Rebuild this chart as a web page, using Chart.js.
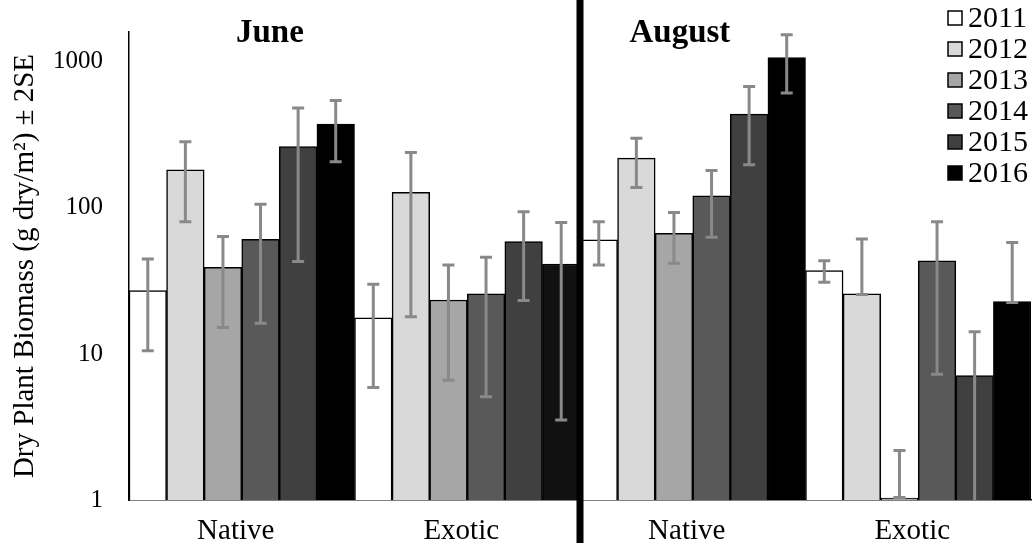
<!DOCTYPE html>
<html>
<head>
<meta charset="utf-8">
<script src="https://cdn.jsdelivr.net/npm/chart.js@4"></script>
<style>
  body { margin: 0; background: #fff; }
</style>
</head>
<body>
<canvas id="myChart" width="1036" height="548"></canvas>
<script>
// categories: June Native, June Exotic, August Native, August Exotic
const categories = ['Native', 'Exotic', 'Native', 'Exotic'];
const months = ['June', 'August'];
const years = ['2011', '2012', '2013', '2014', '2015', '2016'];
const yTicks = [1, 10, 100, 1000];

// mean biomass per year
const v2011 = [27.2, 17.7, 60.4, 37.2];
const v2012 = [182, 128, 219, 25.8];
const v2013 = [39.2, 23.4, 67, 1.03];
const v2014 = [61, 25.8, 121, 43.4];
const v2015 = [263, 58.8, 438, 7.1];
const v2016 = [374, 41.3, 1070, 22.8];

// +2SE / -2SE bounds
const hi2011 = [44.7, 30, 80.5, 43.5];
const lo2011 = [10.5, 5.9, 40.7, 31.0];
const hi2012 = [284, 239, 300, 61.3];
const lo2012 = [80.5, 18.0, 138, 25.5];
const hi2013 = [63.6, 40.7, 93, 2.18];
const lo2013 = [15.2, 6.6, 41.8, 1.04];
const hi2014 = [106, 46, 180, 80.5];
const lo2014 = [16.2, 5.1, 63, 7.26];
const hi2015 = [482, 94, 678, 14.2];
const lo2015 = [42.9, 23.2, 197, 0.5];
const hi2016 = [543, 79.3, 1530, 57.9];
const lo2016 = [207, 3.53, 611, 22.5];

const values = [v2011, v2012, v2013, v2014, v2015, v2016];
const highs = [hi2011, hi2012, hi2013, hi2014, hi2015, hi2016];
const lows = [lo2011, lo2012, lo2013, lo2014, lo2015, lo2016];
const fills = ['#ffffff', '#d9d9d9', '#a6a6a6', '#595959', '#404040', ['#000000', '#111111', '#000000', '#000000']];

const FONT = '"Liberation Serif", "Times New Roman", serif';

const datasets = years.map((y, i) => ({
    label: y,
    data: values[i],
    backgroundColor: fills[i],
    borderColor: '#000',
    borderWidth: 1.5,
    categoryPercentage: 1,
    barPercentage: 1
}));

// error bars, grey
const errorBars = {
    id: 'errorBars',
    afterDatasetsDraw(chart) {
        const ctx = chart.ctx;
        const yS = chart.scales.y;
        const area = chart.chartArea;
        ctx.save();
        ctx.beginPath();
        ctx.rect(area.left, area.top - 20, area.right - area.left, area.bottom - area.top + 20);
        ctx.clip();
        ctx.strokeStyle = '#898989';
        ctx.lineWidth = 3;
        chart.data.datasets.forEach((ds, i) => {
            const meta = chart.getDatasetMeta(i);
            meta.data.forEach((bar, j) => {
                const x = bar.x;
                const yh = yS.getPixelForValue(highs[i][j]);
                const yl = yS.getPixelForValue(lows[i][j]);
                ctx.beginPath();
                ctx.moveTo(x, yh);
                ctx.lineTo(x, yl);
                ctx.moveTo(x - 6, yh);
                ctx.lineTo(x + 6, yh);
                ctx.moveTo(x - 6, yl);
                ctx.lineTo(x + 6, yl);
                ctx.stroke();
            });
        });
        ctx.restore();
    }
};

// month divider, month titles and legend
const decorations = {
    id: 'decorations',
    afterDraw(chart) {
        const ctx = chart.ctx;
        const xS = chart.scales.x;
        ctx.save();
        // thick divider between June and August
        const mid = (xS.getPixelForValue(1) + xS.getPixelForValue(2)) / 2;
        ctx.fillStyle = '#000';
        ctx.fillRect(mid - 3.5, 0, 7, 543);

        // month titles
        ctx.font = 'bold 33px ' + FONT;
        ctx.textAlign = 'center';
        ctx.textBaseline = 'alphabetic';
        ctx.fillText(months[0], xS.getPixelForValue(0.125), 42);
        ctx.fillText(months[1], xS.getPixelForValue(1.943), 42);

        // legend
        ctx.font = '30px ' + FONT;
        ctx.textAlign = 'left';
        ctx.textBaseline = 'middle';
        chart.data.datasets.forEach((ds, i) => {
            const cy = 18 + i * 31;
            const c = Array.isArray(ds.backgroundColor) ? ds.backgroundColor[0] : ds.backgroundColor;
            ctx.fillStyle = c;
            ctx.fillRect(948, cy - 7, 14, 14);
            ctx.strokeStyle = '#000';
            ctx.lineWidth = 1.5;
            ctx.strokeRect(948, cy - 7, 14, 14);
            ctx.fillStyle = '#000';
            ctx.fillText(ds.label, 968, cy + 1);
        });
        ctx.restore();
    }
};

const config = {
    type: 'bar',
    data: { labels: categories, datasets: datasets },
    options: {
        responsive: false,
        animation: false,
        layout: { padding: { top: 32, right: 5, left: 0, bottom: 0 } },
        plugins: {
            legend: { display: false },
            tooltip: { enabled: false }
        },
        scales: {
            x: {
                grid: { display: false },
                border: { display: true, color: '#000', width: 1.5 },
                ticks: {
                    color: '#000',
                    font: { family: FONT, size: 29 },
                    padding: 6,
                    labelOffset: -6,
                    maxRotation: 0
                },
                afterFit(scale) { scale.height = 48; }
            },
            y: {
                type: 'logarithmic',
                min: 1,
                max: 1600,
                grid: { display: false },
                border: { display: true, color: '#000', width: 1.5 },
                afterBuildTicks(scale) {
                    scale.ticks = yTicks.map(v => ({ value: v }));
                },
                ticks: {
                    color: '#000',
                    font: { family: FONT, size: 25 },
                    padding: 18,
                    callback: (v) => String(v)
                },
                title: {
                    display: true,
                    text: 'Dry Plant Biomass (g dry/m²) ± 2SE',
                    color: '#000',
                    font: { family: FONT, size: 29 },
                    padding: { top: 8, bottom: 0 }
                },
                afterFit(scale) {
                    scale.width = 129;
                    scale.paddingTop = 0;
                    scale.paddingBottom = 0;
                }
            }
        }
    },
    plugins: [errorBars, decorations]
};

new Chart(document.getElementById('myChart'), config);
</script>
</body>
</html>
